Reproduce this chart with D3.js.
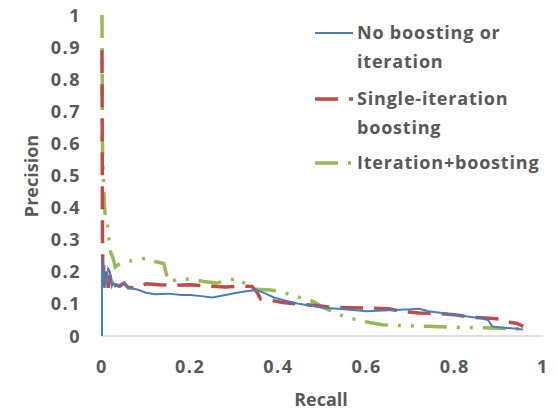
<!DOCTYPE html>
<html>
<head>
<meta charset="utf-8">
<script src="https://cdn.jsdelivr.net/npm/d3@7"></script>
<style>
  body { margin: 0; background: #fff; }
  text { font-family: "Open Sans", "Noto Sans", sans-serif; font-weight: bold; fill: #595959; }
</style>
</head>
<body>
<div id="chart"></div>
<script>
// recall, precision pairs
var noBoosting = [
  [0, 0], [0, 0.25], [0.002, 0.17], [0.004, 0.2], [0.006, 0.15], [0.01, 0.18],
  [0.014, 0.21], [0.018, 0.2], [0.022, 0.155], [0.026, 0.165], [0.03, 0.155],
  [0.04, 0.16], [0.05, 0.165], [0.06, 0.15], [0.08, 0.145], [0.1, 0.135],
  [0.12, 0.13], [0.15, 0.132], [0.18, 0.128], [0.2, 0.128], [0.22, 0.125],
  [0.25, 0.12], [0.28, 0.128], [0.3, 0.133], [0.33, 0.14], [0.35, 0.143],
  [0.37, 0.133], [0.39, 0.12], [0.41, 0.112], [0.44, 0.102], [0.47, 0.095],
  [0.5, 0.088], [0.55, 0.083], [0.6, 0.077], [0.65, 0.08], [0.7, 0.083],
  [0.72, 0.085], [0.74, 0.077], [0.78, 0.07], [0.82, 0.062], [0.86, 0.055],
  [0.875, 0.05], [0.885, 0.03], [0.9, 0.027], [0.93, 0.024], [0.955, 0.02]
]
var singleIter = [
  [0, 0.89], [0.001, 0.33], [0.002, 0.15], [0.004, 0.22], [0.007, 0.16],
  [0.01, 0.2], [0.014, 0.15], [0.018, 0.19], [0.022, 0.16], [0.026, 0.175],
  [0.03, 0.16], [0.04, 0.155], [0.05, 0.165], [0.06, 0.15], [0.08, 0.15],
  [0.1, 0.163], [0.13, 0.16], [0.17, 0.158], [0.2, 0.16], [0.24, 0.155],
  [0.28, 0.153], [0.32, 0.155], [0.34, 0.154], [0.35, 0.14], [0.36, 0.115],
  [0.38, 0.112], [0.41, 0.104], [0.44, 0.1], [0.48, 0.096], [0.52, 0.09],
  [0.56, 0.088], [0.6, 0.087], [0.65, 0.085], [0.68, 0.076], [0.72, 0.072],
  [0.76, 0.07], [0.8, 0.066], [0.84, 0.058], [0.88, 0.055], [0.9, 0.053],
  [0.92, 0.043], [0.94, 0.04], [0.955, 0.03]
]
var iterBoost = [
  [0, 1.0], [0.001, 0.6], [0.002, 0.53], [0.004, 0.45], [0.006, 0.4],
  [0.008, 0.36], [0.012, 0.35], [0.016, 0.3], [0.02, 0.26], [0.025, 0.243],
  [0.03, 0.215], [0.04, 0.225], [0.05, 0.232], [0.07, 0.235], [0.09, 0.24],
  [0.1, 0.243], [0.12, 0.232], [0.14, 0.226], [0.15, 0.17], [0.17, 0.175],
  [0.2, 0.178], [0.23, 0.17], [0.26, 0.165], [0.28, 0.172], [0.31, 0.18],
  [0.33, 0.155], [0.34, 0.146], [0.36, 0.145], [0.38, 0.143], [0.4, 0.14],
  [0.43, 0.128], [0.455, 0.117], [0.48, 0.107], [0.5, 0.09], [0.53, 0.072],
  [0.55, 0.06], [0.58, 0.05], [0.61, 0.041], [0.635, 0.035], [0.69, 0.032],
  [0.74, 0.03], [0.8, 0.027], [0.86, 0.026], [0.9, 0.024], [0.955, 0.022]
]
var seriesNames = ["No boosting or iteration", "Single-iteration boosting", "Iteration+boosting"]
var seriesColors = ["#4a7ebb", "#be4b48", "#98b954"]
var xTicks = [0, 0.2, 0.4, 0.6, 0.8, 1]
var yTicks = [0, 0.1, 0.2, 0.3, 0.4, 0.5, 0.6, 0.7, 0.8, 0.9, 1]

var width = 558, height = 412
var svg = d3.select("#chart").append("svg")
  .attr("width", width)
  .attr("height", height)

var x = d3.scaleLinear().domain([0, 1]).range([102, 543])
var y = d3.scaleLinear().domain([0, 1]).range([336, 15])

// x axis line, no ticks
svg.append("line")
  .attr("x1", x(0)).attr("x2", x(1))
  .attr("y1", y(0)).attr("y2", y(0))
  .attr("stroke", "#bfbfbf").attr("stroke-width", 1)

svg.selectAll(".xlab")
  .data(xTicks)
  .enter().append("text")
  .attr("class", "xlab")
  .attr("x", function (d) { return x(d) })
  .attr("y", 373)
  .attr("text-anchor", "middle")
  .style("font-size", "18px")
  .style("letter-spacing", "1.5px")
  .text(function (d) { return d3.format("~g")(d) })

svg.selectAll(".ylab")
  .data(yTicks)
  .enter().append("text")
  .attr("class", "ylab")
  .attr("x", 81)
  .attr("y", function (d) { return y(d) + 6.5 })
  .attr("text-anchor", "end")
  .style("font-size", "18px")
  .style("letter-spacing", "1.5px")
  .text(function (d) { return d3.format("~g")(d) })

svg.append("text")
  .attr("transform", "translate(38,176) rotate(-90)")
  .attr("text-anchor", "middle")
  .style("font-size", "18px")
  .text("Precision")

svg.append("text")
  .attr("x", 321)
  .attr("y", 406)
  .attr("text-anchor", "middle")
  .style("font-size", "18px")
  .text("Recall")

var line = d3.line()
  .x(function (d) { return x(d[0]) })
  .y(function (d) { return y(d[1]) })

var dashes = [null, "23,11", "23,10,3,10,3,10"]
var widths = [2, 3.5, 3.5]
var allSeries = [noBoosting, singleIter, iterBoost]

// draw green first, then red, blue on top
;[2, 1, 0].forEach(function (i) {
  svg.append("path")
    .datum(allSeries[i])
    .attr("d", line)
    .attr("fill", "none")
    .attr("stroke", seriesColors[i])
    .attr("stroke-width", widths[i])
    .attr("stroke-dasharray", dashes[i])
})

// legend
var legendRows = [
  { lines: ["No boosting or", "iteration"], y: 33 },
  { lines: ["Single-iteration", "boosting"], y: 99 },
  { lines: ["Iteration+boosting"], y: 163 }
]

legendRows.forEach(function (row, i) {
  svg.append("line")
    .attr("x1", 315).attr("x2", 353)
    .attr("y1", row.y).attr("y2", row.y)
    .attr("stroke", seriesColors[i])
    .attr("stroke-width", widths[i])
    .attr("stroke-dasharray", dashes[i])
  row.lines.forEach(function (t, j) {
    svg.append("text")
      .attr("x", 357)
      .attr("y", row.y + 6 + j * 29)
      .style("font-size", "18px")
      .style("letter-spacing", "0.8px")
      .text(t)
  })
})
</script>
</body>
</html>
